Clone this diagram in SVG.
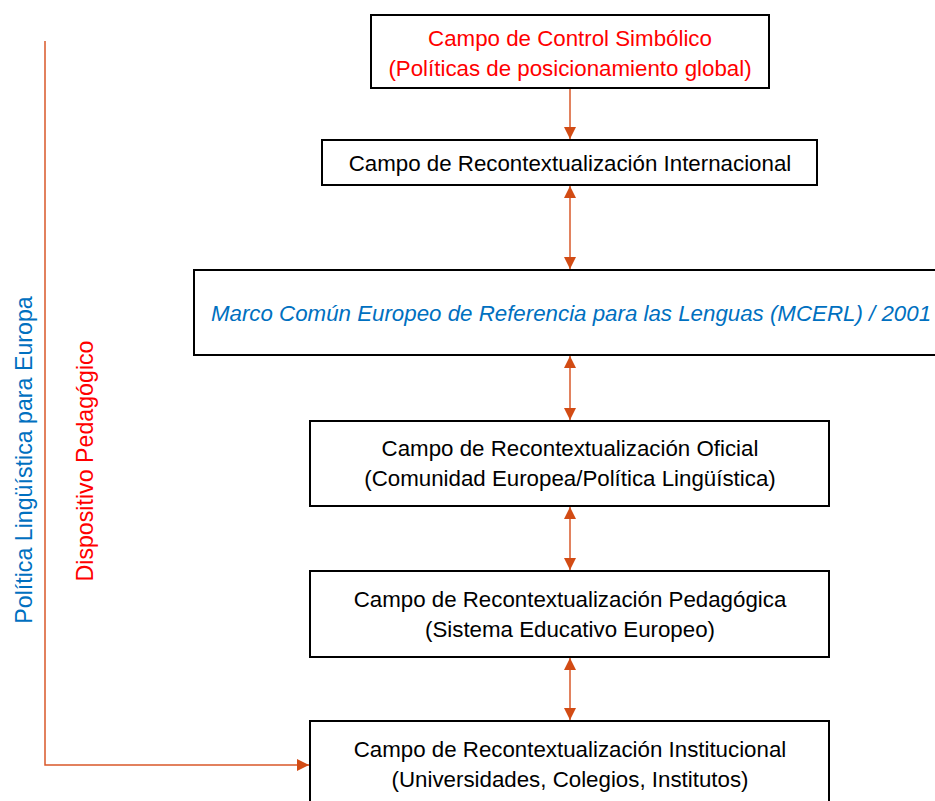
<svg xmlns="http://www.w3.org/2000/svg" width="935" height="801" viewBox="0 0 935 801">
<defs>
<style>
.box{fill:#fff;stroke:#000;stroke-width:2}
.t{font-family:"Liberation Sans",Arial,sans-serif;font-size:22.3px;text-anchor:middle;fill:#000}
.side{font-size:23.2px}
.red{fill:#FF0000}
.blue{fill:#0070C0}
.ln{stroke:#D9582A;stroke-width:1.5;fill:none}
</style>
<marker id="ah" viewBox="0 0 10 10" refX="10" refY="5" markerWidth="12" markerHeight="12" markerUnits="userSpaceOnUse" orient="auto-start-reverse">
<path d="M0,0 L10,5 L0,10 z" fill="#D24B14"/>
</marker>
</defs>
<rect width="935" height="801" fill="#fff"/>
<g id="connectors">
<line class="ln" x1="570" y1="89" x2="570" y2="139" marker-end="url(#ah)"/>
<line class="ln" x1="570" y1="186" x2="570" y2="269" marker-start="url(#ah)" marker-end="url(#ah)"/>
<line class="ln" x1="570" y1="356" x2="570" y2="420" marker-start="url(#ah)" marker-end="url(#ah)"/>
<line class="ln" x1="570" y1="507" x2="570" y2="570" marker-start="url(#ah)" marker-end="url(#ah)"/>
<line class="ln" x1="570" y1="658" x2="570" y2="720" marker-start="url(#ah)" marker-end="url(#ah)"/>
<polyline class="ln" points="45,41 45,765 309,765" marker-end="url(#ah)"/>
</g>
<g id="n1">
<rect class="box" x="371" y="15" width="398" height="73"/>
<text class="t red" x="570" y="46">Campo de Control Simbólico</text>
<text class="t red" x="570" y="76">(Políticas de posicionamiento global)</text>
</g>
<g id="n2">
<rect class="box" x="322" y="140" width="495" height="45"/>
<text class="t" x="570" y="171">Campo de Recontextualización Internacional</text>
</g>
<g id="n3">
<rect class="box" x="194" y="270" width="745" height="85"/>
<text class="t blue" x="571" y="321" font-style="italic">Marco Común Europeo de Referencia para las Lenguas (MCERL) / 2001</text>
</g>
<g id="n4">
<rect class="box" x="310" y="421" width="519" height="85"/>
<text class="t" x="570" y="456">Campo de Recontextualización Oficial</text>
<text class="t" x="570" y="486">(Comunidad Europea/Política Lingüística)</text>
</g>
<g id="n5">
<rect class="box" x="310" y="571" width="519" height="86"/>
<text class="t" x="570" y="607">Campo de Recontextualización Pedagógica</text>
<text class="t" x="570" y="637">(Sistema Educativo Europeo)</text>
</g>
<g id="n6">
<rect class="box" x="310" y="721" width="519" height="90"/>
<text class="t" x="570" y="757">Campo de Recontextualización Institucional</text>
<text class="t" x="570" y="787">(Universidades, Colegios, Institutos)</text>
</g>
<g id="labels">
<text class="t side blue" transform="translate(32,460) rotate(-90)">Política Lingüística para Europa</text>
<text class="t side red" transform="translate(93,461) rotate(-90)">Dispositivo Pedagógico</text>
</g>
</svg>
